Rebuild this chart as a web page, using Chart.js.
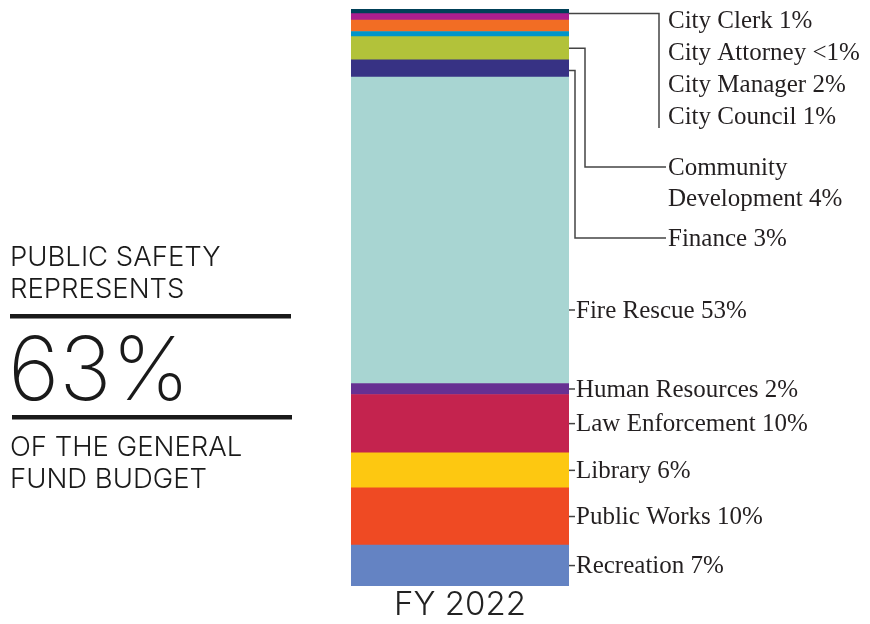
<!DOCTYPE html>
<html>
<head>
<meta charset="utf-8">
<script src="https://cdn.jsdelivr.net/npm/chart.js@4.4.0/dist/chart.umd.min.js"></script>
<style>
  html, body { margin: 0; padding: 0; background: #fff; }
  canvas { display: block; }
</style>
</head>
<body>
<canvas id="budget" width="870" height="624"></canvas>
<script>
// departments, stacked from the bottom of the bar upward
const departments = ['Recreation', 'Public Works', 'Library', 'Law Enforcement', 'Human Resources', 'Fire Rescue', 'Finance', 'Community Development', 'City Council', 'City Manager', 'City Clerk', 'City Attorney'];
// share of the general fund (%)
const shares = [7.1, 9.9, 6.1, 10.1, 1.9, 53.1, 3.0, 4.0, 0.9, 2.0, 1.1, 0.8];
// percent as printed next to each department
const shareLabels = ['7%', '10%', '6%', '10%', '2%', '53%', '3%', '4%', '1%', '2%', '1%', '<1%'];
const colors = ['#6483C3', '#EF4A23', '#FDC811', '#C4234E', '#663092', '#A8D5D2', '#373284', '#B2C23A', '#0095C8', '#F26D24', '#AA1E8E', '#004058'];
const years = ['FY 2022'];
const publicSafety = '63%';

const sansFont = '"Inter", "Liberation Sans", sans-serif';
const serifFont = '"Liberation Serif", "DejaVu Serif", serif';

function labelFor(i) {
    return departments[i] + ' ' + shareLabels[i];
}

// draws the leader lines and department names right of the bar, and the text block on the left
const calloutPlugin = {
    id: 'callouts',
    afterDatasetsDraw(chart) {
        const c = chart.ctx;
        const x0 = chart.chartArea.right;
        const bar = i => chart.getDatasetMeta(i).data[0];
        const mid = i => (bar(i).y + bar(i).base) / 2;
        const path = pts => {
            c.beginPath();
            c.moveTo(pts[0][0], pts[0][1]);
            pts.slice(1).forEach(p => c.lineTo(p[0], p[1]));
            c.stroke();
        };

        c.save();
        c.strokeStyle = '#444';
        c.lineWidth = 1.5;
        c.fillStyle = '#231f20';
        c.font = '25px ' + serifFont;
        c.textBaseline = 'middle';
        c.textAlign = 'left';

        // city offices share one bracket
        const gy = bar(10).y;
        path([[x0, gy], [x0 + 90, gy], [x0 + 90, 128]]);
        [10, 11, 9, 8].forEach((i, k) => c.fillText(labelFor(i), x0 + 99, 21 + k * 32.3));

        // community development
        const cy = mid(7);
        path([[x0, cy], [x0 + 16, cy], [x0 + 16, 167], [x0 + 97, 167]]);
        c.fillText('Community', x0 + 99, 168);
        c.fillText('Development ' + shareLabels[7], x0 + 99, 199);

        // finance
        const fy = mid(6) + 2;
        path([[x0, fy], [x0 + 6, fy], [x0 + 6, 238], [x0 + 97, 238]]);
        c.fillText(labelFor(6), x0 + 99, 239);

        // fire rescue and below: short ticks
        path([[x0, 310], [x0 + 6, 310]]);
        c.fillText(labelFor(5), x0 + 7, 311);
        [4, 3, 2, 1, 0].forEach(i => {
            const y = mid(i);
            path([[x0, y], [x0 + 6, y]]);
            c.fillText(labelFor(i), x0 + 7, y + 1);
        });

        // left text block
        c.fillStyle = '#1a1a1a';
        c.textBaseline = 'alphabetic';
        c.font = '300 27.5px ' + sansFont;
        c.fillText('PUBLIC SAFETY', 10, 266);
        c.fillText('REPRESENTS', 10, 298);
        c.fillText('OF THE GENERAL', 10, 456);
        c.fillText('FUND BUDGET', 10, 488);
        c.font = '200 88px ' + sansFont;
        c.fillText(publicSafety, 8, 400);
        c.fillRect(10, 314, 281, 4.5);
        c.fillRect(12, 415, 280, 4.5);
        c.restore();
    }
};

const chart = new Chart(document.getElementById('budget').getContext('2d'), {
    type: 'bar',
    data: {
        labels: years,
        datasets: departments.map((d, i) => ({
            label: d,
            data: [shares[i]],
            backgroundColor: colors[i],
            borderWidth: 0,
            barPercentage: 1,
            categoryPercentage: 1
        }))
    },
    options: {
        responsive: false,
        animation: false,
        layout: { padding: { left: 351, right: 301, top: 9, bottom: 0 } },
        plugins: { legend: { display: false }, tooltip: { enabled: false } },
        scales: {
            x: {
                stacked: true,
                grid: { display: false, drawTicks: false },
                border: { display: false },
                ticks: {
                    padding: 0,
                    color: '#222',
                    font: { family: sansFont, size: 33, weight: 300, lineHeight: 1.15 }
                }
            },
            y: { stacked: true, min: 0, max: 100, display: false }
        }
    },
    plugins: [calloutPlugin]
});
</script>
</body>
</html>
